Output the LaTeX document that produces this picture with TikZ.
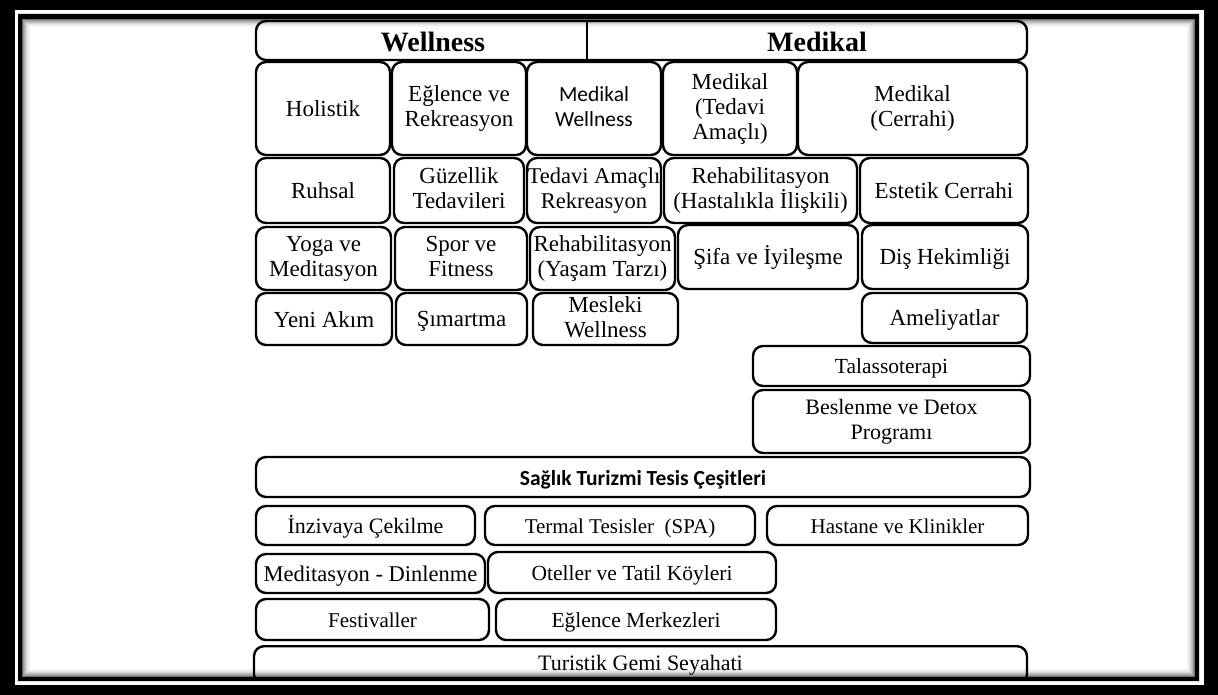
\documentclass[tikz,border=0pt]{standalone}
\usepackage{fontspec}
\setmainfont{Liberation Serif}
\newfontfamily\calfont{Carlito}
\newcommand\fs[1]{\fontsize{#1}{25}\selectfont}
\newcommand\lstrut{\rule[-4.5pt]{0pt}{25pt}}
\tikzset{
  bx/.style={draw=black, line width=2.4pt, rounded corners=10pt, align=center,
    inner sep=0pt, fill=white, font=\fs{23},
    execute at begin node=\lstrut, execute at end node=\lstrut},
  hdrtext/.style={inner sep=0pt, font=\bfseries\fontsize{28}{30}\selectfont},
}
\newcommand\rb[7][]{\node[bx, minimum width={#5-#3}, minimum height={#6-#4}, #1] (#2) at ({(#3+#5)/2},{(#4+#6)/2}) {#7};}
\begin{document}
\begin{tikzpicture}[x=1pt,y=-1pt]
\useasboundingbox (0,0) rectangle (1218,695);
% frame
\fill[black] (0,0) rectangle (1218,695);
\fill[white] (15,10) rectangle (1204,685);
\begin{scope}
\clip (21,18) rectangle (1196,678);
% header
\node[bx, minimum width=771, minimum height=39] (hdr) at (641.5,40.5) {};
\coordinate (dv) at (587,40.5);
\draw[line width=2.4pt] (dv |- hdr.north) -- (dv |- hdr.south);
\node[hdrtext] (wl) at (433,42) {Wellness};
\node[hdrtext] (md) at (817,42) {Medikal};
% row 1
\rb{holistik}{256}{62}{390}{155}{Holistik}
\rb{eglence}{392}{62}{526}{155}{Eğlence ve\\Rekreasyon}
\rb[font=\calfont\fs{21.5}]{medwell}{527}{62}{661}{155}{Medikal\\Wellness}
\rb{medted}{663}{62}{797}{155}{Medikal\\(Tedavi\\Amaçlı)}
\rb{medcer}{798}{62}{1027}{155}{Medikal\\(Cerrahi)}
% row 2
\rb{ruhsal}{256}{158}{390}{223}{Ruhsal}
\rb{guzel}{394}{158}{524}{223}{Güzellik\\Tedavileri}
\rb[font=\fs{22.5}]{tedrek}{527}{158}{661}{223}{Tedavi Amaçlı\\Rekreasyon}
\rb{rehabh}{664}{158}{857}{223}{Rehabilitasyon\\(Hastalıkla İlişkili)}
\rb{estetik}{860}{158}{1028}{223}{Estetik Cerrahi}
% row 3
\rb{yoga}{256}{227}{391}{290}{Yoga ve\\Meditasyon}
\rb{spor}{395}{227}{527}{290}{Spor ve\\Fitness}
\rb{rehaby}{530}{227}{675}{290}{Rehabilitasyon\\(Yaşam Tarzı)}
\rb{sifa}{678}{225}{858}{289}{Şifa ve İyileşme}
\rb{dis}{862}{225}{1028}{289}{Diş Hekimliği}
% row 4
\rb{yeni}{256}{293}{392}{345}{Yeni Akım}
\rb{simart}{396}{293}{527}{345}{Şımartma}
\rb{mesleki}{533}{293}{678}{345}{Mesleki\\Wellness}
\rb{ameliyat}{862}{293}{1027}{343}{Ameliyatlar}
\rb[font=\fs{21.5}]{talasso}{753}{346}{1030}{386}{Talassoterapi}
\rb[font=\fs{22}]{beslenme}{753}{390}{1030}{453}{Beslenme ve Detox\\Programı}
% facilities
\node[bx, minimum width=774, minimum height=40, font=\calfont\bfseries\fs{21.5}] (saglik) at (643,477) {Sağlık Turizmi Tesis Çeşitleri};
\rb[font=\fs{22}]{inziva}{256}{506}{475}{545}{İnzivaya Çekilme}
\rb[font=\fs{21}]{termal}{485}{506}{755}{545}{Termal Tesisler\ \ (SPA)}
\rb[font=\fs{21}]{hastane}{767}{506}{1028}{545}{Hastane ve Klinikler}
\rb[font=\fs{22.5}]{medit}{256}{554}{485}{593}{Meditasyon - Dinlenme}
\rb[font=\fs{21.5}]{oteller}{488}{552}{776}{593}{Oteller ve Tatil Köyleri}
\rb[font=\fs{21}]{festival}{256}{599}{489}{640}{Festivaller}
\rb[font=\fs{21.5}]{eglmerk}{496}{599}{776}{640}{Eğlence Merkezleri}
\node[bx, minimum width=773, minimum height=38, anchor=north] (turistik) at (640.5,645) {};
\node[inner sep=0pt, font=\fs{22}, execute at begin node=\lstrut, yshift=2.5pt] (turtext) at (turistik.center) {Turistik Gemi Seyahati};
% inner shadow
\foreach \i/\o in {0/0.55,1/0.42,2/0.32,3/0.24,4/0.17,5/0.11,6/0.07,7/0.04,8/0.02}{
  \draw[line width=1pt, black, opacity=\o] (22.5+\i,19.5+\i) rectangle (1194.5-\i,676.5-\i);
}
\end{scope}
\fill[black, even odd rule] (18,14) rectangle (1199,681) (22,19) rectangle (1195,677);
\end{tikzpicture}
\end{document}
